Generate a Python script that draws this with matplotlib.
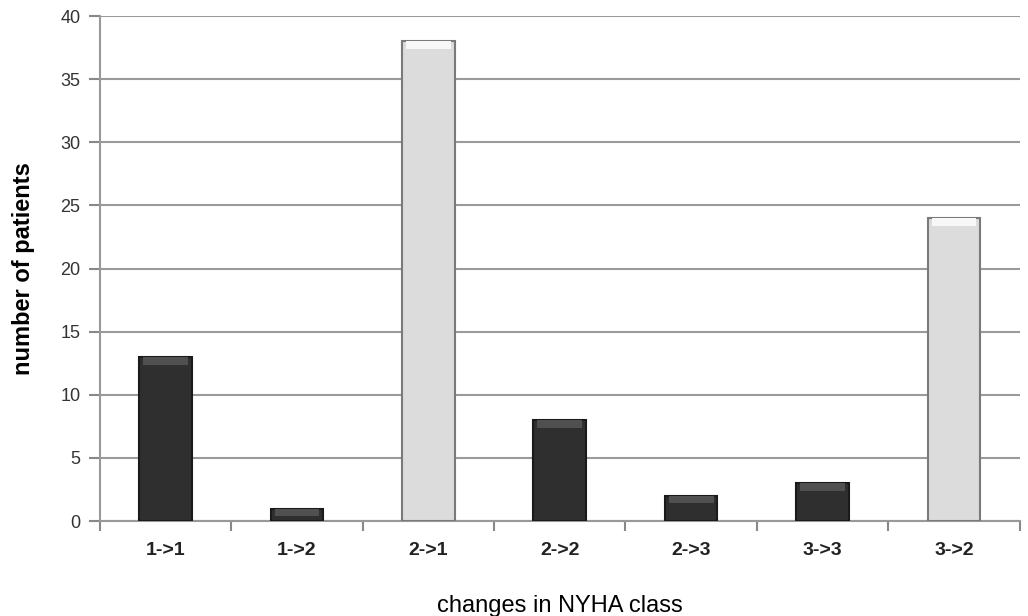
import numpy as np
import matplotlib
matplotlib.use('Agg')
import matplotlib.pyplot as plt

# cambi di classe NYHA e numero di pazienti
classi = ['1->1', '1->2', '2->1', '2->2', '2->3', '3->3', '3->2']
pazienti = [13, 1, 38, 8, 2, 3, 24]
migliorati = [False, False, True, False, False, False, True]

plt.rcParams['font.family'] = ['Liberation Sans', 'DejaVu Sans']

fig = plt.figure(figsize=(10.28, 6.16), dpi=100)
ax = fig.add_axes([0.097, 0.154, 0.895, 0.82])

x = np.arange(len(classi))
col = ['#dcdcdc' if m else '#2f2f2f' for m in migliorati]
bordo = ['#7a7a7a' if m else '#1a1a1a' for m in migliorati]
ax.bar(x, pazienti, width=0.4, color=col, edgecolor=bordo, linewidth=1.5, zorder=3)
# riflesso sul bordo superiore delle barre
cima = ['#f8f8f8' if m else '#505050' for m in migliorati]
ax.bar(x, [0.6]*len(x), bottom=np.array(pazienti) - 0.6, width=0.34,
       color=cima, linewidth=0, zorder=4)

ax.set_xlim(-0.5, len(classi) - 0.5)
ax.set_ylim(0, 40)
ax.set_yticks(range(0, 41, 5))
ax.set_xticks(x)
ax.set_xticklabels(classi, fontweight='bold', fontsize=14, color='#222222')
ax.set_xticks(np.arange(-0.5, len(classi)), minor=True)
ax.tick_params(axis='x', which='major', length=0, pad=15)
ax.tick_params(axis='x', which='minor', length=7, width=1.5, color='#888888')
ax.tick_params(axis='y', length=8, width=1.5, color='#888888', labelsize=13,
               labelcolor='#333333', pad=6)
ax.yaxis.grid(True, color='#9a9a9a', linewidth=1.5, zorder=0)
for s in ['top', 'right']:
    ax.spines[s].set_visible(False)
ax.spines['left'].set_color('#999999')
ax.spines['left'].set_linewidth(1.5)
ax.spines['bottom'].set_color('#999999')
ax.spines['bottom'].set_linewidth(1.5)

ax.set_ylabel('number of patients', fontweight='bold', fontsize=17, labelpad=18)
ax.set_xlabel('changes in NYHA class', fontsize=17, labelpad=26)

plt.savefig('out.png', dpi=100)
